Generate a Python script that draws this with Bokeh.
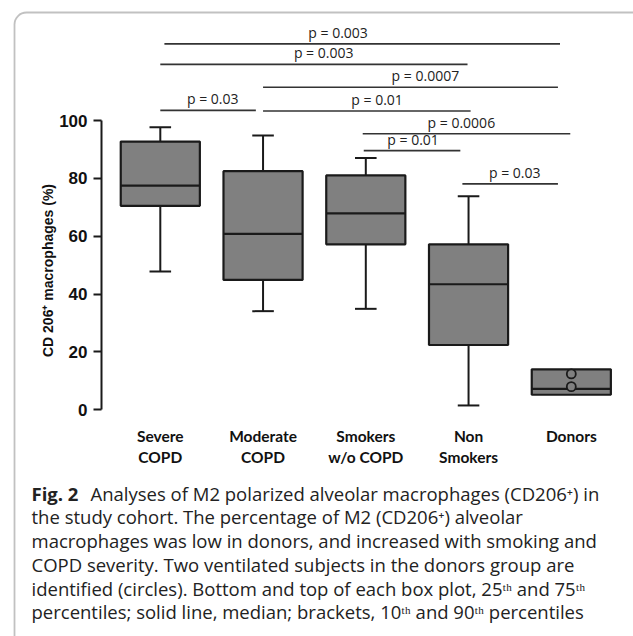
import math
from bokeh.plotting import figure
from bokeh.models import Range1d, FixedTicker, Label, BoxAnnotation
from bokeh.core.properties import value
from bokeh.embed import file_html
from bokeh.resources import INLINE

NaN = float("nan")

# ---- data ----
groups = ["Severe\nCOPD", "Moderate\nCOPD", "Smokers\nw/o COPD", "Non\nSmokers", "Donors"]
p10 = [47.8, 34.1, 34.9, 1.5, NaN]
q1 = [70.5, 44.9, 57.2, 22.4, 5.2]
median = [77.5, 60.8, 67.9, 43.4, 7.2]
q3 = [92.7, 82.5, 81.0, 57.2, 14.0]
p90 = [97.7, 94.8, 87.0, 73.8, NaN]
ventilated = [12.4, 8.0]  # two ventilated donors (circles)

y_ticks = [0, 20, 40, 60, 80, 100]

# significance brackets: from group, to group, level, label, label x
br_start = [0.04, 0.0, 1.0, 0.0, 1.0, 1.97, 1.98, 2.94]
br_end = [3.89, 2.99, 3.87, 0.93, 3.02, 3.99, 2.92, 3.87]
br_level = [126.5, 119.4, 111.5, 103.5, 103.3, 95.4, 89.6, 78.1]
br_label = ["p = 0.003", "p = 0.003", "p = 0.0007", "p = 0.03",
            "p = 0.01", "p = 0.0006", "p = 0.01", "p = 0.03"]
br_label_x = [1.73, 1.59, 2.58, 0.51, 2.11, 2.93, 2.46, 3.45]

caption_lines = [
    "Analyses of M2 polarized alveolar macrophages (CD206\u207a) in",
    "the study cohort. The percentage of M2 (CD206\u207a) alveolar",
    "macrophages was low in donors, and increased with smoking and",
    "COPD severity. Two ventilated subjects in the donors group are",
    "identified (circles). Bottom and top of each box plot, 25\u1d57\u02b0 and 75\u1d57\u02b0",
    "percentiles; solid line, median; brackets, 10\u1d57\u02b0 and 90\u1d57\u02b0 percentiles",
]

# ---- layout helpers (pixel -> data) ----
X_C0, X_STEP = 159.8, 102.75
Y_0, Y_K = 409.3, 2.893
def sx(px):
    return (px - X_C0) / X_STEP
def sy(py):
    return (Y_0 - py) / Y_K

W, H = 633, 636
AXIS_X, AXIS_Y = 101, 420

p = figure(width=W, height=H, output_backend="svg", toolbar_location=None,
           x_range=Range1d(sx(0), sx(W)), y_range=Range1d(sy(H), sy(0)),
           min_border=0)
p.outline_line_color = None
p.grid.visible = False
p.background_fill_color = "white"
p.border_fill_color = "white"

xs = list(range(len(groups)))
BW = 0.77
CAP = 0.105
edge = "#1a1a1a"
fill = "#808080"

# whiskers
p.segment(x0=xs, x1=xs, y0=q3, y1=p90, line_color=edge, line_width=2)
p.segment(x0=xs, x1=xs, y0=q1, y1=p10, line_color=edge, line_width=2)
p.segment(x0=[x - CAP for x in xs], x1=[x + CAP for x in xs], y0=p90, y1=p90,
          line_color=edge, line_width=2)
p.segment(x0=[x - CAP for x in xs], x1=[x + CAP for x in xs], y0=p10, y1=p10,
          line_color=edge, line_width=2)
# boxes
p.vbar(x=xs, top=q3, bottom=q1, width=BW, fill_color=fill, line_color=edge, line_width=2.2)
p.segment(x0=[x - BW / 2 for x in xs], x1=[x + BW / 2 for x in xs], y0=median, y1=median,
          line_color=edge, line_width=2.2)
# ventilated donors
p.scatter(x=[4] * len(ventilated), y=ventilated, size=9, fill_color=fill,
          line_color=edge, line_width=1.8)

# brackets
p.segment(x0=br_start, x1=br_end, y0=br_level, y1=br_level, line_color="#333333", line_width=1.6)
p.text(x=br_label_x, y=[v + 2.0 / Y_K for v in br_level], text=br_label, text_align="center",
       text_baseline="bottom", text_font=value("Open Sans"),
       text_font_size="14px", text_color="#222222")

# axes (fixed at pixel-matched positions)
ya = p.yaxis[0]
ya.fixed_location = sx(AXIS_X)
ya.ticker = FixedTicker(ticks=y_ticks)
ya.bounds = (0, 100)
ya.axis_line_width = 2
ya.axis_line_color = edge
ya.major_tick_line_width = 2
ya.major_tick_line_color = edge
ya.major_tick_out = 8
ya.major_tick_in = 0
ya.minor_tick_line_color = None
ya.major_label_standoff = 6
ya.major_label_text_font = "Liberation Sans"
ya.major_label_text_font_style = "bold"
ya.major_label_text_font_size = "17px"
ya.major_label_text_color = "#111111"

xa = p.xaxis[0]
xa.fixed_location = sy(AXIS_Y)
xa.ticker = FixedTicker(ticks=xs)
xa.major_label_overrides = {i: g for i, g in enumerate(groups)}
xa.axis_line_color = None
xa.major_tick_line_color = None
xa.minor_tick_line_color = None
xa.major_label_standoff = 0
xa.major_label_text_font = "Lato"
xa.major_label_text_font_style = "bold"
xa.major_label_text_font_size = "15.5px"
xa.major_label_text_color = "#111111"
xa.major_label_text_line_height = 1.2

# y axis title
p.add_layout(Label(x=sx(47), y=sy(270), text="CD 206\u207a macrophages (%)", angle=math.pi / 2,
                   text_align="center", text_baseline="middle", text_font="Liberation Sans",
                   text_font_style="bold", text_font_size="14px", text_color="#111111"))

# caption
base0, step = 492.7, 23.7
p.add_layout(Label(x=sx(31), y=sy(base0), text="Fig. 2", text_font="Open Sans",
                   text_font_style="bold", text_font_size="18.5px", text_color="#222222",
                   text_baseline="alphabetic"))
for i, line in enumerate(caption_lines):
    xpx = 90 if i == 0 else 31
    p.add_layout(Label(x=sx(xpx), y=sy(base0 + step * i), text=line, text_font="Open Sans",
                       text_font_size="18.5px", text_color="#222222",
                       text_baseline="alphabetic"))

# rounded frame
p.add_layout(BoxAnnotation(left=sx(14), right=sx(800), top=sy(12), bottom=sy(660),
                           fill_alpha=0, line_color="#333333", line_width=1.8,
                           border_radius=12))

open("out.html", "w").write(file_html(p, INLINE))
